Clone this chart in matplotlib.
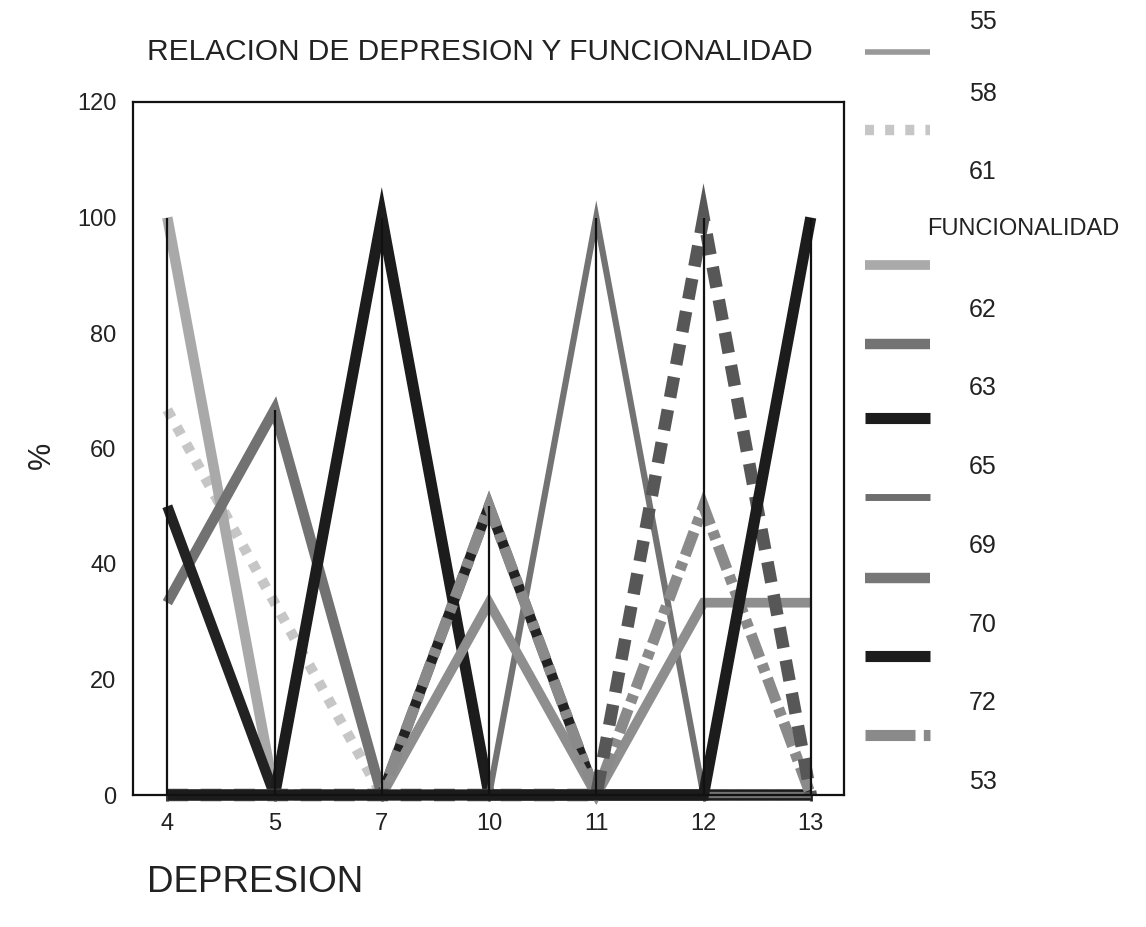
import numpy as np
import matplotlib
matplotlib.use("Agg")
import matplotlib.pyplot as plt
from matplotlib.lines import Line2D

plt.rcParams['font.family'] = ['Liberation Sans', 'DejaVu Sans']
plt.rcParams['lines.scale_dashes'] = False

# --- datos ---
depresion = ['4', '5', '7', '10', '11', '12', '13']

serie_55 = [0, 0, 0, 0, 0, 100, 0]
serie_58 = [0, 0, 0, 33.3, 0, 33.3, 33.3]
serie_61 = [66.7, 33.3, 0, 0, 0, 0, 0]
serie_62 = [100, 0, 0, 0, 0, 0, 0]
serie_63 = [33.3, 66.7, 0, 0, 0, 0, 0]
serie_65 = [50, 0, 0, 50, 0, 0, 0]
serie_69 = [0, 0, 0, 0, 100, 0, 0]
serie_70 = [0, 0, 0, 0, 0, 0, 100]
serie_72 = [0, 0, 100, 0, 0, 0, 0]
serie_53 = [0, 0, 0, 50, 0, 50, 0]

etiquetas_leyenda = ['55', '58', '61', '62', '63', '65', '69', '70', '72', '53']

# estilo de cada serie (color, grosor, guiones)
series = [
    (serie_61, '#c6c6c6', 7.5, (0, (6.5, 7.5))),
    (serie_62, '#a9a9a9', 7.5, None),
    (serie_63, '#727272', 7.5, None),
    (serie_65, '#222222', 7.5, None),
    (serie_72, '#1c1c1c', 8.0, None),
    (serie_69, '#737373', 4.5, None),
    (serie_58, '#8e8e8e', 7.0, None),
    (serie_53, '#8a8a8a', 8.0, (0, (18, 5, 6, 5))),
    (serie_55, '#575757', 9.0, (0, (15, 9))),
    (serie_70, '#1c1c1c', 8.0, None),
]

fig = plt.figure(figsize=(11.46, 9.27), dpi=100)
ax = fig.add_axes([133/1146, 1 - 795/927, (844-133)/1146, (795-102)/927])

x = np.arange(len(depresion))
for valores, color, lw, ls in series:
    ln, = ax.plot(x, valores, color=color, lw=lw, solid_joinstyle='miter',
                  dash_joinstyle='miter', solid_capstyle='butt', dash_capstyle='butt',
                  clip_on=False)
    if ls is not None:
        ln.set_linestyle(ls)

# lineas de maximo-minimo
todas = np.array([s[0] for s in series])
ax.vlines(x, todas.min(axis=0), todas.max(axis=0), color='#111111', lw=1.6, zorder=5)

ax.set_xlim(-0.32, 6.31)
ax.set_ylim(0, 120)
ax.set_yticks(range(0, 121, 20))
ax.set_xticks(x)
ax.set_xticklabels(depresion)
ax.tick_params(axis='both', labelsize=17, colors='#222222')
ax.tick_params(axis='y', length=0, pad=12)
ax.tick_params(axis='x', length=4, width=2, pad=9)
for sp in ax.spines.values():
    sp.set_linewidth(1.6)
    sp.set_color('#111111')

fig.text(147/1146, 1 - 52/927, 'RELACION DE DEPRESION Y FUNCIONALIDAD',
         fontsize=21.5, va='center', ha='left', color='#222222')
fig.text(147/1146, 1 - 882/927, 'DEPRESION', fontsize=26.5, va='center', ha='left',
         color='#222222')
fig.text(42/1146, 1 - 455/927, '%', fontsize=22, rotation=90, va='center',
         ha='center', color='#222222')

# --- leyenda ---
lax = fig.add_axes([0, 0, 1, 1])
lax.set_xlim(0, 1146)
lax.set_ylim(927, 0)
lax.axis('off')

y_etiquetas = [22, 94, 172, 310, 388, 467, 546, 625, 703, 782]
for etq, yy in zip(etiquetas_leyenda, y_etiquetas):
    lax.text(983, yy, etq, fontsize=18, ha='center', va='center', color='#222222')
lax.text(1023, 229, 'FUNCIONALIDAD', fontsize=17, ha='center', va='center',
         color='#222222')

muestras = [
    (52, '#999999', 4.0, None),
    (130, '#c6c6c6', 7.5, (0, (6.5, 8))),
    (265, '#aaaaaa', 7.0, None),
    (344, '#737373', 7.5, None),
    (418, '#1c1c1c', 8.0, None),
    (497, '#6e6e6e', 5.0, None),
    (578, '#777777', 7.5, None),
    (656, '#1c1c1c', 8.0, None),
    (735, '#8a8a8a', 8.0, (0, (36, 6, 8, 40))),
]
for yy, color, lw, ls in muestras:
    ln = Line2D([865, 930], [yy, yy], color=color, lw=lw, solid_capstyle='butt',
                dash_capstyle='butt')
    if ls is not None:
        ln.set_linestyle(ls)
    lax.add_line(ln)

plt.savefig('out.png', dpi=100)
